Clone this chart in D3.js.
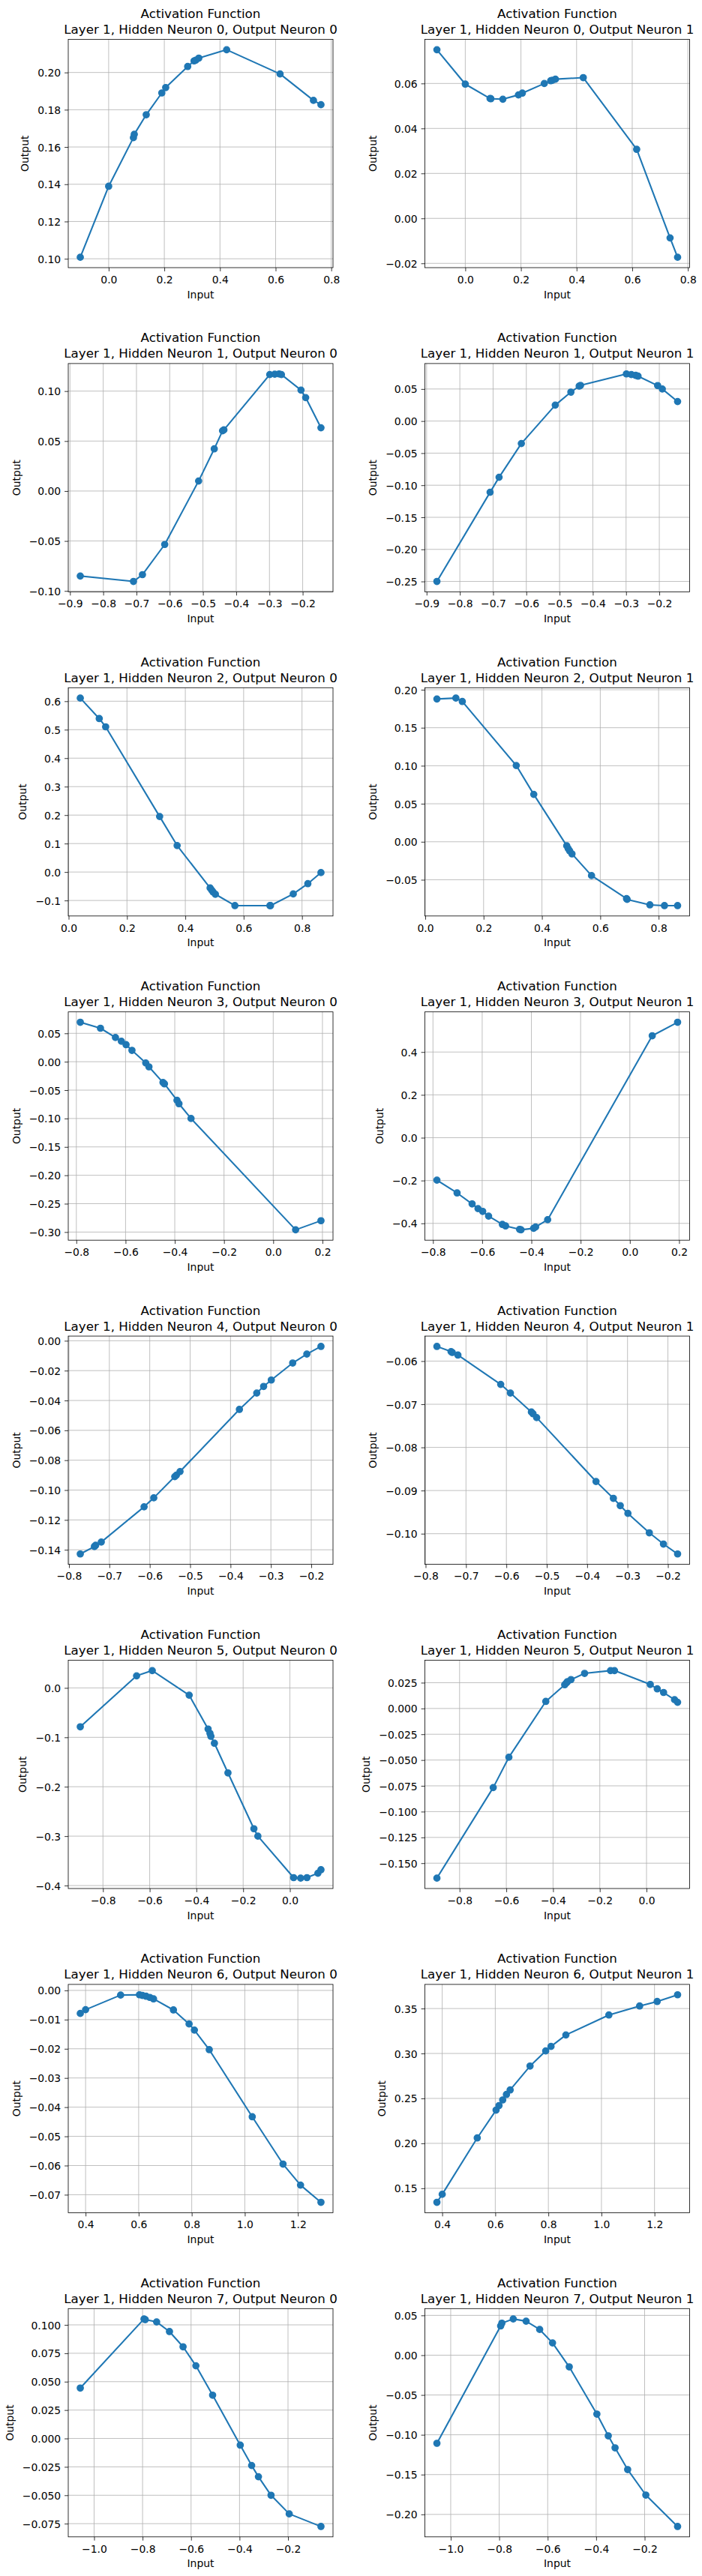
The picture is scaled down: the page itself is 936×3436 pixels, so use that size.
<!DOCTYPE html>
<html>
<head>
<meta charset="utf-8">
<script src="https://cdn.jsdelivr.net/npm/d3@7"></script>
<style>
  html, body { margin: 0; padding: 0; background: #ffffff; }
  svg { display: block; }
</style>
</head>
<body>
<svg id="chart" width="936" height="3436"></svg>
<script>
// ---------------- DATA ----------------
// Hidden neuron 0
const h0Input = [-0.102, 0.000, 0.089, 0.092, 0.135, 0.191, 0.205, 0.284, 0.307, 0.313, 0.324, 0.424, 0.616, 0.736, 0.763];
const h0Out0  = [0.1008, 0.1389, 0.1650, 0.1668, 0.1773, 0.1890, 0.1919, 0.2032, 0.2062, 0.2066, 0.2077, 0.2122, 0.1992, 0.1850, 0.1827];
const h0Out1  = [0.0750, 0.0597, 0.0533, 0.0532, 0.0530, 0.0549, 0.0557, 0.0600, 0.0612, 0.0614, 0.0619, 0.0626, 0.0307, -0.0087, -0.0173];
// Hidden neuron 1
const h1Input = [-0.869, -0.709, -0.682, -0.615, -0.513, -0.466, -0.441, -0.437, -0.299, -0.284, -0.271, -0.264, -0.205, -0.191, -0.145];
const h1Out0  = [-0.0851, -0.0905, -0.0837, -0.0535, 0.0100, 0.0422, 0.0603, 0.0612, 0.1165, 0.1169, 0.1172, 0.1165, 0.1010, 0.0935, 0.0633];
const h1Out1  = [-0.2500, -0.1110, -0.0876, -0.0350, 0.0249, 0.0451, 0.0545, 0.0556, 0.0735, 0.0724, 0.0712, 0.0700, 0.0553, 0.0500, 0.0304];
// Hidden neuron 2
const h2Input = [0.040, 0.105, 0.127, 0.312, 0.372, 0.485, 0.490, 0.495, 0.503, 0.570, 0.690, 0.692, 0.770, 0.820, 0.865];
const h2Out0  = [0.611, 0.539, 0.510, 0.195, 0.093, -0.056, -0.063, -0.070, -0.078, -0.118, -0.118, -0.118, -0.077, -0.041, -0.002];
const h2Out1  = [0.1878, 0.1890, 0.1845, 0.1003, 0.0623, -0.0053, -0.0090, -0.0120, -0.0160, -0.0445, -0.0748, -0.0758, -0.0830, -0.0840, -0.0840];
// Hidden neuron 3
const h3Input = [-0.784, -0.702, -0.641, -0.617, -0.598, -0.574, -0.518, -0.505, -0.448, -0.442, -0.391, -0.383, -0.334, 0.091, 0.194];
const h3Out0  = [0.0695, 0.0590, 0.0426, 0.0360, 0.0300, 0.0200, -0.0022, -0.0090, -0.0365, -0.0390, -0.0680, -0.0740, -0.1000, -0.2960, -0.2800];
const h3Out1  = [-0.198, -0.258, -0.309, -0.331, -0.344, -0.366, -0.405, -0.412, -0.428, -0.430, -0.423, -0.417, -0.383, 0.476, 0.539];
// Hidden neuron 4
const h4Input = [-0.772, -0.737, -0.734, -0.720, -0.614, -0.590, -0.538, -0.534, -0.525, -0.378, -0.335, -0.318, -0.299, -0.246, -0.211, -0.176];
const h4Out0  = [-0.1428, -0.1378, -0.1370, -0.1348, -0.1112, -0.1052, -0.0910, -0.0900, -0.0876, -0.0460, -0.0350, -0.0306, -0.0263, -0.0149, -0.0089, -0.0038];
const h4Out1  = [-0.0566, -0.0578, -0.0580, -0.0586, -0.0654, -0.0674, -0.0718, -0.0722, -0.0731, -0.0879, -0.0918, -0.0935, -0.0953, -0.0998, -0.1024, -0.1047];
// Hidden neuron 5
const h5Input = [-0.897, -0.656, -0.589, -0.431, -0.350, -0.342, -0.338, -0.323, -0.265, -0.154, -0.137, 0.016, 0.046, 0.073, 0.120, 0.133];
const h5Out0  = [-0.0787, 0.0244, 0.0350, -0.0147, -0.0832, -0.0920, -0.0980, -0.1120, -0.1720, -0.2850, -0.3000, -0.3840, -0.3850, -0.3840, -0.3750, -0.3680];
const h5Out1  = [-0.1645, -0.0767, -0.0473, 0.0068, 0.0230, 0.0250, 0.0260, 0.0280, 0.0340, 0.0367, 0.0367, 0.0233, 0.0190, 0.0155, 0.0085, 0.0060];
// Hidden neuron 6
const h6Input = [0.380, 0.400, 0.532, 0.603, 0.614, 0.628, 0.642, 0.656, 0.731, 0.790, 0.810, 0.866, 1.028, 1.144, 1.210, 1.287];
const h6Out0  = [-0.0079, -0.0066, -0.0016, -0.0015, -0.0017, -0.0020, -0.0024, -0.0029, -0.0067, -0.0115, -0.0136, -0.0203, -0.0433, -0.0595, -0.0667, -0.0726];
const h6Out1  = [0.1344, 0.1433, 0.2060, 0.2370, 0.2420, 0.2483, 0.2544, 0.2594, 0.2860, 0.3028, 0.3078, 0.3206, 0.3428, 0.3528, 0.3578, 0.3653];
// Hidden neuron 7
const h7Input = [-1.057, -0.794, -0.789, -0.742, -0.689, -0.633, -0.580, -0.511, -0.397, -0.350, -0.322, -0.270, -0.195, -0.064];
const h7Out0  = [0.0444, 0.1052, 0.1046, 0.1026, 0.0941, 0.0807, 0.0640, 0.0381, -0.0059, -0.0238, -0.0337, -0.0500, -0.0664, -0.0775];
const h7Out1  = [-0.1107, 0.0367, 0.0402, 0.0455, 0.0427, 0.0323, 0.0154, -0.0147, -0.0740, -0.1013, -0.1164, -0.1437, -0.1757, -0.2152];

// ---------------- TICK LABELS ----------------
const h0XTicks = ["0.0", "0.2", "0.4", "0.6", "0.8"];
const h1XTicks = ["−0.9", "−0.8", "−0.7", "−0.6", "−0.5", "−0.4", "−0.3", "−0.2"];
const h2XTicks = ["0.0", "0.2", "0.4", "0.6", "0.8"];
const h3XTicks = ["−0.8", "−0.6", "−0.4", "−0.2", "0.0", "0.2"];
const h4XTicks = ["−0.8", "−0.7", "−0.6", "−0.5", "−0.4", "−0.3", "−0.2"];
const h5XTicks = ["−0.8", "−0.6", "−0.4", "−0.2", "0.0"];
const h6XTicks = ["0.4", "0.6", "0.8", "1.0", "1.2"];
const h7XTicks = ["−1.0", "−0.8", "−0.6", "−0.4", "−0.2"];

const h0Out0YTicks = ["0.10", "0.12", "0.14", "0.16", "0.18", "0.20"];
const h0Out1YTicks = ["−0.02", "0.00", "0.02", "0.04", "0.06"];
const h1Out0YTicks = ["−0.10", "−0.05", "0.00", "0.05", "0.10"];
const h1Out1YTicks = ["−0.25", "−0.20", "−0.15", "−0.10", "−0.05", "0.00", "0.05"];
const h2Out0YTicks = ["−0.1", "0.0", "0.1", "0.2", "0.3", "0.4", "0.5", "0.6"];
const h2Out1YTicks = ["−0.05", "0.00", "0.05", "0.10", "0.15", "0.20"];
const h3Out0YTicks = ["−0.30", "−0.25", "−0.20", "−0.15", "−0.10", "−0.05", "0.00", "0.05"];
const h3Out1YTicks = ["−0.4", "−0.2", "0.0", "0.2", "0.4"];
const h4Out0YTicks = ["−0.14", "−0.12", "−0.10", "−0.08", "−0.06", "−0.04", "−0.02", "0.00"];
const h4Out1YTicks = ["−0.10", "−0.09", "−0.08", "−0.07", "−0.06"];
const h5Out0YTicks = ["−0.4", "−0.3", "−0.2", "−0.1", "0.0"];
const h5Out1YTicks = ["−0.150", "−0.125", "−0.100", "−0.075", "−0.050", "−0.025", "0.000", "0.025"];
const h6Out0YTicks = ["−0.07", "−0.06", "−0.05", "−0.04", "−0.03", "−0.02", "−0.01", "0.00"];
const h6Out1YTicks = ["0.15", "0.20", "0.25", "0.30", "0.35"];
const h7Out0YTicks = ["−0.075", "−0.050", "−0.025", "0.000", "0.025", "0.050", "0.075", "0.100"];
const h7Out1YTicks = ["−0.20", "−0.15", "−0.10", "−0.05", "0.00", "0.05"];

const titleLine1 = "Activation Function";
const xLabel = "Input";
const yLabel = "Output";
const lineColor = "#1f77b4";

// ---------------- ASSEMBLE PANELS ----------------
const rows = [
  { x: h0Input, ys: [h0Out0, h0Out1], xt: h0XTicks, yt: [h0Out0YTicks, h0Out1YTicks] },
  { x: h1Input, ys: [h1Out0, h1Out1], xt: h1XTicks, yt: [h1Out0YTicks, h1Out1YTicks] },
  { x: h2Input, ys: [h2Out0, h2Out1], xt: h2XTicks, yt: [h2Out0YTicks, h2Out1YTicks] },
  { x: h3Input, ys: [h3Out0, h3Out1], xt: h3XTicks, yt: [h3Out0YTicks, h3Out1YTicks] },
  { x: h4Input, ys: [h4Out0, h4Out1], xt: h4XTicks, yt: [h4Out0YTicks, h4Out1YTicks] },
  { x: h5Input, ys: [h5Out0, h5Out1], xt: h5XTicks, yt: [h5Out0YTicks, h5Out1YTicks] },
  { x: h6Input, ys: [h6Out0, h6Out1], xt: h6XTicks, yt: [h6Out0YTicks, h6Out1YTicks] },
  { x: h7Input, ys: [h7Out0, h7Out1], xt: h7XTicks, yt: [h7Out0YTicks, h7Out1YTicks] }
];

// ---------------- LAYOUT ----------------
const colLeft = [91, 566.5];
const axW = 353;
const axH = 304.5;
const rowTop0 = 52.5;
const rowStep = 432.4;
const FONT = "DejaVu Sans, Liberation Sans, sans-serif";
const tickFont = 13.9;
const titleFont = 16.7;

const svg = d3.select("#chart");
svg.append("rect").attr("width", 936).attr("height", 3436).attr("fill", "#ffffff");

const parseTick = s => +s.replace("−", "-");
function padded(vals) {
  const [a, b] = d3.extent(vals);
  const m = (b - a) * 0.05;
  return [a - m, b + m];
}

rows.forEach((row, r) => {
  row.ys.forEach((yVals, c) => {
    const left = colLeft[c];
    const top = rowTop0 + r * rowStep;
    const pts = row.x.map((xv, i) => ({ x: xv, y: yVals[i] }));

    const x = d3.scaleLinear().domain(padded(row.x)).range([left, left + axW]);
    const y = d3.scaleLinear().domain(padded(yVals)).range([top + axH, top]);

    const xTickVals = row.xt.map(parseTick);
    const yLabels = row.yt[c];
    const yTickVals = yLabels.map(parseTick);

    const g = svg.append("g");

    // grid
    g.append("g").selectAll("line.gx").data(xTickVals).join("line")
      .attr("x1", d => x(d)).attr("x2", d => x(d))
      .attr("y1", top).attr("y2", top + axH)
      .attr("stroke", "#b0b0b0").attr("stroke-width", 0.8);
    g.append("g").selectAll("line.gy").data(yTickVals).join("line")
      .attr("x1", left).attr("x2", left + axW)
      .attr("y1", d => y(d)).attr("y2", d => y(d))
      .attr("stroke", "#b0b0b0").attr("stroke-width", 0.8);

    // line + markers
    g.append("path").datum(pts)
      .attr("d", d3.line().x(d => x(d.x)).y(d => y(d.y)))
      .attr("fill", "none").attr("stroke", lineColor).attr("stroke-width", 2.08)
      .attr("stroke-linejoin", "round").attr("stroke-linecap", "square");
    g.append("g").selectAll("circle").data(pts).join("circle")
      .attr("cx", d => x(d.x)).attr("cy", d => y(d.y)).attr("r", 4.17)
      .attr("fill", lineColor).attr("stroke", lineColor).attr("stroke-width", 1.39);

    // axes
    const xAxis = d3.axisBottom(x).tickValues(xTickVals)
      .tickFormat((d, i) => row.xt[i]).tickSize(4.9).tickSizeOuter(0).tickPadding(6);
    const gx = g.append("g").attr("transform", `translate(0,${top + axH})`).call(xAxis);
    gx.select(".domain").remove();
    gx.selectAll("line").attr("stroke", "#000").attr("stroke-width", 0.8);
    gx.selectAll("text").attr("font-family", FONT).attr("font-size", tickFont).attr("fill", "#000");

    const yAxis = d3.axisLeft(y).tickValues(yTickVals)
      .tickFormat((d, i) => yLabels[i]).tickSize(4.9).tickSizeOuter(0).tickPadding(4.9);
    const gy = g.append("g").attr("transform", `translate(${left},0)`).call(yAxis);
    gy.select(".domain").remove();
    gy.selectAll("line").attr("stroke", "#000").attr("stroke-width", 0.8);
    gy.selectAll("text").attr("font-family", FONT).attr("font-size", tickFont).attr("fill", "#000")
      .attr("dy", "0.36em");

    // spines
    g.append("rect").attr("x", left).attr("y", top).attr("width", axW).attr("height", axH)
      .attr("fill", "none").attr("stroke", "#000").attr("stroke-width", 0.8);

    // titles
    const cx = left + axW / 2;
    g.append("text").attr("x", cx).attr("y", top - 28.6).attr("text-anchor", "middle")
      .attr("font-family", FONT).attr("font-size", titleFont).attr("fill", "#000")
      .text(titleLine1);
    g.append("text").attr("x", cx).attr("y", top - 7.6).attr("text-anchor", "middle")
      .attr("font-family", FONT).attr("font-size", titleFont).attr("fill", "#000")
      .text(`Layer 1, Hidden Neuron ${r}, Output Neuron ${c}`);

    // axis labels
    g.append("text").attr("x", cx).attr("y", top + axH + 40.5).attr("text-anchor", "middle")
      .attr("font-family", FONT).attr("font-size", tickFont).attr("fill", "#000")
      .text(xLabel);

    const bb = gy.node().getBBox();
    const tickLeft = left + bb.x;
    const lx = tickLeft - 12;
    const ly = top + axH / 2;
    g.append("text").attr("transform", `translate(${lx},${ly}) rotate(-90)`)
      .attr("text-anchor", "middle")
      .attr("font-family", FONT).attr("font-size", tickFont).attr("fill", "#000")
      .text(yLabel);
  });
});
</script>
</body>
</html>
